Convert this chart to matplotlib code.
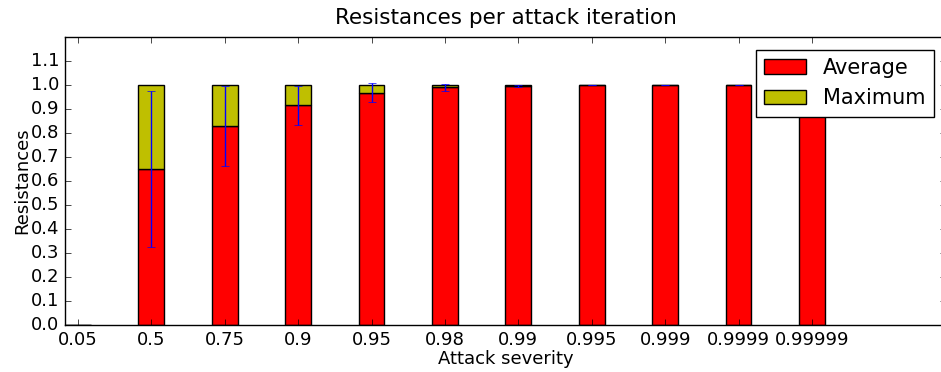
import numpy as np
import matplotlib
matplotlib.use('Agg')
import matplotlib.pyplot as plt

plt.style.use('classic')

# resistance results per attack severity
severities = ['0.05', '0.5', '0.75', '0.9', '0.95', '0.98', '0.99',
              '0.995', '0.999', '0.9999', '0.99999']
avg_res = [0.0, 0.648, 0.83, 0.915, 0.968, 0.99, 0.996, 0.999, 1.0, 1.0, 1.0]
std_res = [0.0, 0.325, 0.167, 0.082, 0.04, 0.015, 0.003, 0.001, 0.0, 0.0, 0.0]
max_res = [0.0, 1.0, 1.0, 1.0, 1.0, 1.0, 1.0, 1.0, 1.0, 1.0, 1.0]

N = len(severities)
ind = np.arange(N)
width = 0.35

fig = plt.figure(figsize=(9.41, 3.72), dpi=100, facecolor='white')
ax = fig.add_axes([65/941., 47/372., 881/941., 288/372.])

avg = np.array(avg_res)
mx = np.array(max_res)

p1 = ax.bar(ind, avg, width, color='r', align='edge',
            yerr=std_res, error_kw=dict(ecolor='b', capsize=3, elinewidth=1))
p2 = ax.bar(ind, mx - avg, width, bottom=avg, color='y', align='edge')

ax.set_title('Resistances per attack iteration', fontsize=15.5, y=1.02)
ax.set_ylabel('Resistances', fontsize=13, labelpad=0)
ax.set_xlabel('Attack severity', fontsize=13, labelpad=1)
ax.set_xticks(ind + width / 2.)
ax.set_xticklabels(severities)
ax.set_yticks(np.arange(0, 1.2, 0.1))
ax.tick_params(labelsize=13)
ax.set_xlim(0, 12)
ax.set_ylim(0, 1.2)
ax.legend((p1[0], p2[0]), ('Average', 'Maximum'), loc='upper right',
          fontsize=15, borderaxespad=0.6)

fig.savefig('out.png', dpi=100, facecolor='white')
